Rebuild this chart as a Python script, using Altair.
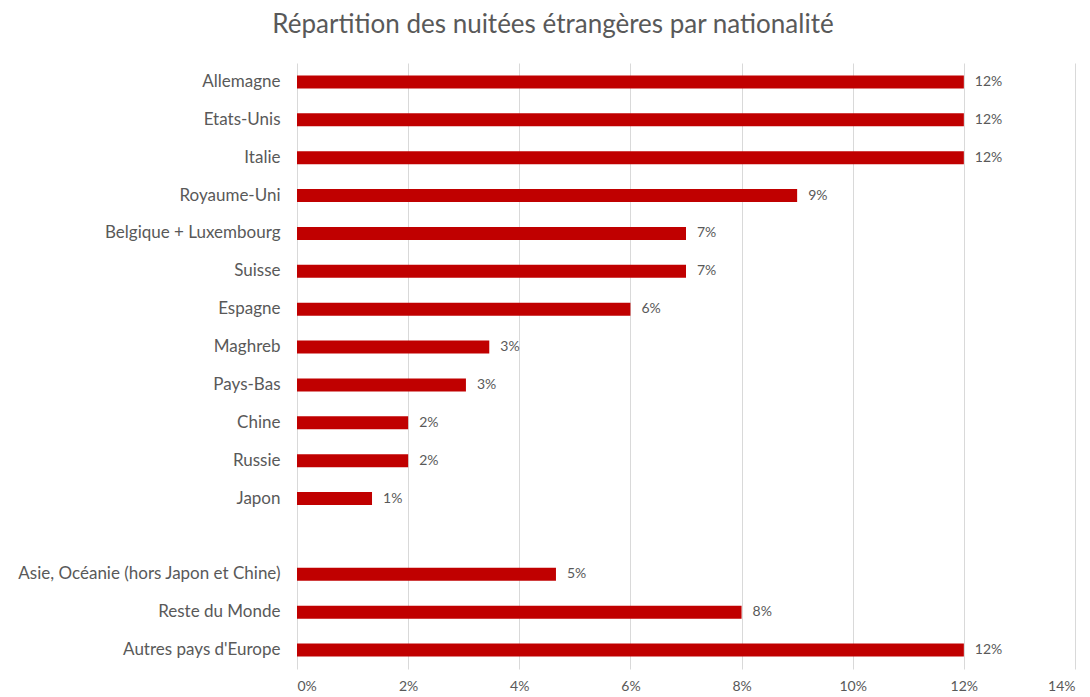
import altair as alt
import pandas as pd

countries = ["Allemagne", "Etats-Unis", "Italie", "Royaume-Uni", "Belgique + Luxembourg",
             "Suisse", "Espagne", "Maghreb", "Pays-Bas", "Chine", "Russie", "Japon",
             "Asie, Océanie (hors Japon et Chine)", "Reste du Monde", "Autres pays d'Europe"]
shares = [0.120, 0.120, 0.120, 0.090, 0.070, 0.070, 0.060, 0.0346, 0.0304, 0.020, 0.020, 0.0135,
          0.0466, 0.080, 0.120]
order = countries[:12] + [" "] + countries[12:]

df = pd.DataFrame({"pays": countries, "part": shares})

FONT = "Lato"
GREY = "#595959"

y = alt.Y("pays:N", sort=order,
          scale=alt.Scale(domain=order, paddingInner=0.655, paddingOuter=0.3275),
          axis=alt.Axis(title=None, domain=False, ticks=False, labelPadding=17,
                        labelFontSize=17, labelColor=GREY, labelFont=FONT, labelLimit=400,
                        grid=False))
x = alt.X("part:Q", scale=alt.Scale(domain=[0, 0.14], nice=False),
          axis=alt.Axis(title=None, format=".0%", values=[0, 0.02, 0.04, 0.06, 0.08, 0.10, 0.12, 0.14],
                        domain=False, ticks=False, labelPadding=10, labelFontSize=14,
                        labelColor=GREY, labelFont=FONT, gridColor="#D9D9D9", gridWidth=1))

bars = alt.Chart(df).mark_bar(color="#C00000").encode(x=x, y=y)
labels = alt.Chart(df).mark_text(align="left", baseline="middle", dx=11, fontSize=14,
                                 color=GREY, font=FONT).encode(
    x="part:Q", y=alt.Y("pays:N", sort=order), text=alt.Text("part:Q", format=".0%"))

chart = (bars + labels).properties(
    width=778, height=606,
    title=alt.TitleParams("Répartition des nuitées étrangères par nationalité",
                          fontSize=26, font=FONT, fontWeight="normal", color=GREY,
                          anchor="middle", frame="group", dx=-133, offset=25),
    autosize=alt.AutoSizeParams(type="none"),
    padding={"left": 289, "top": 55, "right": 7, "bottom": 26},
).configure_view(stroke=None)

chart.save("out.html", embed_options={"renderer": "svg", "actions": False})
